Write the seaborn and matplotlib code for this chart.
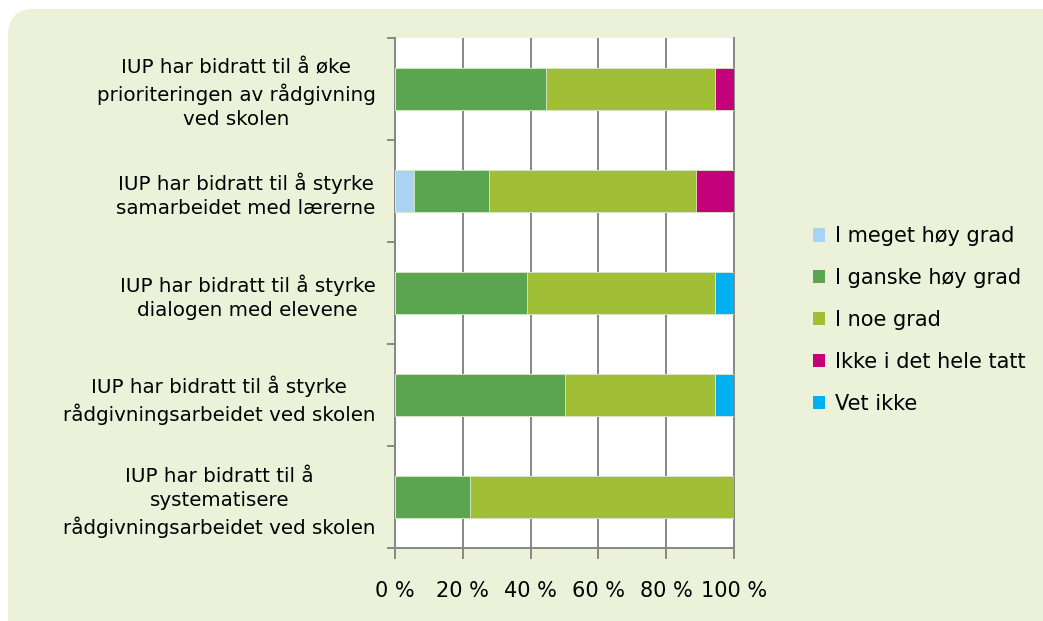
import numpy as np
import pandas as pd
import matplotlib
matplotlib.use("Agg")
import matplotlib.pyplot as plt
from matplotlib.patches import Patch, FancyBboxPatch
import seaborn as sns

# Data (percent of respondents)
statements = [
    "IUP har bidratt til å øke\nprioriteringen av rådgivning\nved skolen",
    "IUP har bidratt til å styrke\nsamarbeidet med lærerne",
    "IUP har bidratt til å styrke\ndialogen med elevene",
    "IUP har bidratt til å styrke\nrådgivningsarbeidet ved skolen",
    "IUP har bidratt til å\nsystematisere\nrådgivningsarbeidet ved skolen",
]
series = ["I meget høy grad", "I ganske høy grad", "I noe grad",
          "Ikke i det hele tatt", "Vet ikke"]
meget_hoy = [0.0, 5.6, 0.0, 0.0, 0.0]
ganske_hoy = [44.4, 22.2, 38.9, 50.0, 22.2]
noe_grad = [50.0, 61.1, 55.6, 44.4, 77.8]
ikke = [5.6, 11.1, 0.0, 0.0, 0.0]
vet_ikke = [0.0, 0.0, 5.5, 5.6, 0.0]
colors = ["#A9D3F3", "#5BA551", "#A0BF37", "#C4007A", "#00B0F0"]
xticks = [0, 20, 40, 60, 80, 100]

df = pd.DataFrame({"statement": statements})
values = [meget_hoy, ganske_hoy, noe_grad, ikke, vet_ikke]
cum = np.cumsum(np.array(values), axis=0)

sns.set_style("white")
plt.rcParams["font.family"] = ["DejaVu Sans"]
plt.rcParams["text.color"] = "black"
plt.rcParams["xtick.labelcolor"] = "black"
plt.rcParams["ytick.labelcolor"] = "black"

fig = plt.figure(figsize=(10.43, 6.21), dpi=100, facecolor="white")
bg = FancyBboxPatch((8 / 1043, -0.1), 1.2, 1.1 - 9 / 621,
                    boxstyle="round,pad=0,rounding_size=0.025",
                    transform=fig.transFigure, facecolor="#EBF2D9",
                    edgecolor="none", zorder=-5, mutation_aspect=1043 / 621)
fig.patches.append(bg)

ax = fig.add_axes([395 / 1043, 73 / 621, 339 / 1043, 510 / 621])
ax.set_zorder(2)
ax.set_facecolor("white")

# stacked bars: draw cumulative totals from the last series backwards
for i in range(len(series) - 1, -1, -1):
    df["val"] = cum[i]
    sns.barplot(data=df, x="val", y="statement", color=colors[i], orient="h",
                width=0.41, saturation=1, edgecolor="#DCE9CF", linewidth=0.6,
                ax=ax, zorder=3)

ax.set_xlim(0, 100)
ax.set_ylim(4.5, -0.5)
ax.set_xticks(xticks)
ax.set_xticklabels([f"{t} %" for t in xticks], fontsize=15)
ax.xaxis.grid(True, color="#878787", linewidth=1.4, zorder=1)
ax.set_axisbelow(True)
ax.set_xlabel("")
ax.set_ylabel("")
ax.spines["top"].set_visible(False)
for s in ["left", "bottom", "right"]:
    ax.spines[s].set_color("#878787")
    ax.spines[s].set_linewidth(1.4)
ax.tick_params(axis="x", length=8, width=1.4, color="#878787", pad=16,
               bottom=True)
ax.tick_params(axis="y", which="major", length=0, pad=14, labelsize=14.3)
ax.set_yticks(np.arange(-0.5, 5, 1), minor=True)
ax.tick_params(axis="y", which="minor", length=6, width=1.4,
               color="#878787", left=True)
for t in ax.get_yticklabels():
    t.set_multialignment("center")
    t.set_linespacing(1.35)

handles = [Patch(facecolor=c, edgecolor="none") for c in colors]
fig.legend(handles, series, loc="center left",
           bbox_to_anchor=(794 / 1043, 1 - 320 / 621), frameon=False,
           fontsize=15, handlelength=0.6, handleheight=0.6,
           handletextpad=0.45, labelspacing=1.05)

fig.savefig("out.png", dpi=100, facecolor="white")
